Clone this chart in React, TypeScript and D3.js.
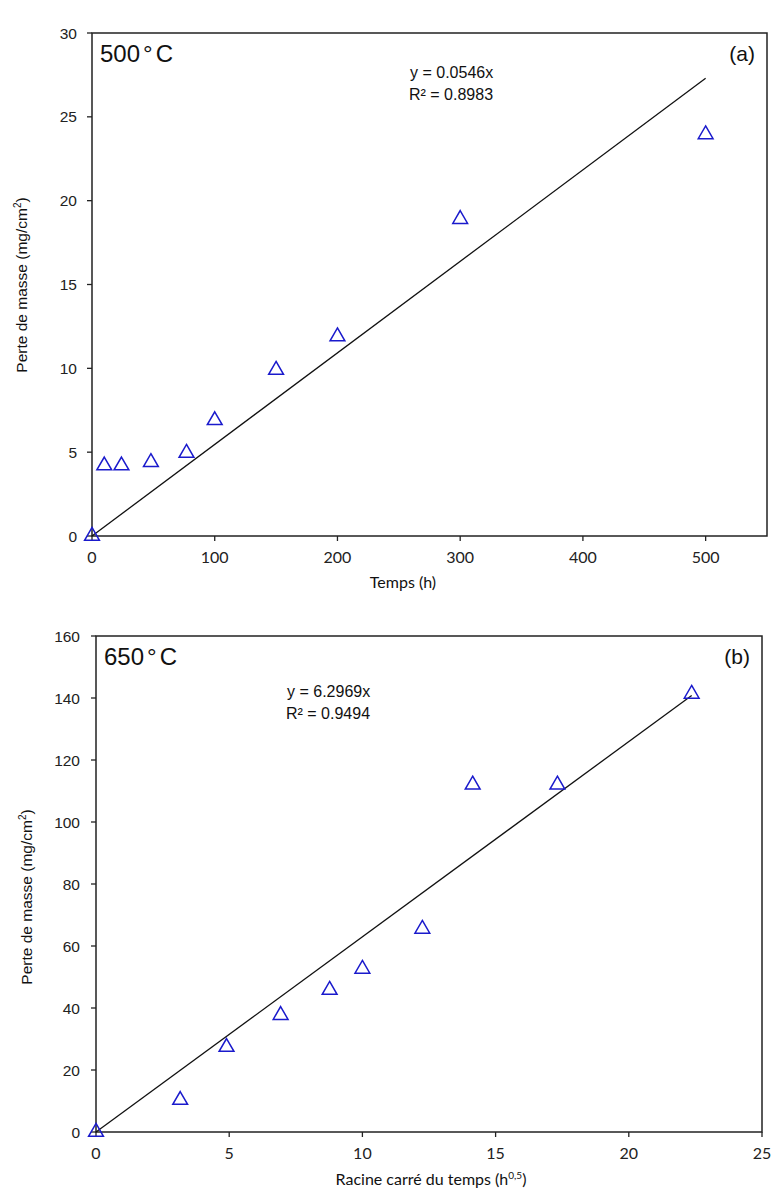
import React from "react";
import * as d3 from "d3";

const timesA = [0, 10, 24, 48, 77, 100, 150, 200, 300, 500];
const lossA = [0, 4.2, 4.2, 4.4, 4.95, 6.9, 9.9, 11.9, 18.9, 23.95];
const slopeA = 0.0546;
const xTicksA = [0, 100, 200, 300, 400, 500];
const yTicksA = [0, 5, 10, 15, 20, 25, 30];

const sqrtTimesB = [0, 3.16, 4.9, 6.93, 8.77, 10, 12.25, 14.14, 17.32, 22.36];
const lossB = [0, 10.3, 27.4, 37.7, 45.8, 52.6, 65.5, 112, 112, 141.3];
const slopeB = 6.2969;
const xTicksB = [0, 5, 10, 15, 20, 25];
const yTicksB = [0, 20, 40, 60, 80, 100, 120, 140, 160];

const FONT = "'Liberation Sans', Arial, sans-serif";
const FONT2 = "Lato, 'Open Sans', sans-serif";

type PanelProps = {
  xs: number[];
  ys: number[];
  slope: number;
  xDomain: [number, number];
  yDomain: [number, number];
  xTicks: number[];
  yTicks: number[];
  left: number;
  right: number;
  top: number;
  bottom: number;
  title: string;
  tag: string;
  eq1: string;
  eq2: string;
  eqX: number;
  eqY: number;
  xLabel: React.ReactNode;
  xLabelX: number;
  xLabelY: number;
  yLabelX: number;
  yLabelY: number;
  yTickGap: number;
};

function Panel(p: PanelProps) {
  const x = d3.scaleLinear().domain(p.xDomain).range([p.left, p.right]);
  const y = d3.scaleLinear().domain(p.yDomain).range([p.bottom, p.top]);
  const xMax = d3.max(p.xs) as number;
  const tri = d3.symbol().type(d3.symbolTriangle).size(95)();
  return (
    <g>
      <rect x={p.left} y={p.top} width={p.right - p.left} height={p.bottom - p.top} fill="none" stroke="#222" strokeWidth={1.5} />
      {p.yTicks.map((t) => (
        <g key={"y" + t}>
          <line x1={p.left - 5} x2={p.left} y1={y(t)} y2={y(t)} stroke="#222" strokeWidth={1.3} />
          <text x={p.left - p.yTickGap} y={y(t)} dy="0.36em" textAnchor="end" fontSize={15.5} fontFamily={FONT} fill="#222">{t}</text>
        </g>
      ))}
      {p.xTicks.map((t) => (
        <g key={"x" + t}>
          <line x1={x(t)} x2={x(t)} y1={p.bottom} y2={p.bottom + 5} stroke="#222" strokeWidth={1.3} />
          <text x={x(t)} y={p.bottom + 27} textAnchor="middle" fontSize={16} fontFamily={FONT2} fill="#222">{t}</text>
        </g>
      ))}
      <line x1={x(0)} y1={y(0)} x2={x(xMax)} y2={y(p.slope * xMax)} stroke="#111" strokeWidth={1.3} />
      {p.xs.map((v, i) => (
        <path key={i} d={tri} transform={`translate(${x(v)},${y(p.ys[i])})`} fill="none" stroke="#1a1acc" strokeWidth={1.5} />
      ))}
      <text x={p.left + 8} y={p.top + 29} fontSize={24} fontFamily={FONT} fill="#111">
        {p.title}<tspan dx={3}>°</tspan><tspan dx={3}>C</tspan>
      </text>
      <text x={p.right - 12} y={p.top + 28} textAnchor="end" fontSize={21} fontFamily={FONT} fill="#111">{p.tag}</text>
      <text x={p.eqX} y={p.eqY} fontSize={16} fontFamily={FONT} fill="#111">{p.eq1}</text>
      <text x={p.eqX - 1} y={p.eqY + 22} fontSize={16} fontFamily={FONT} fill="#111">{p.eq2}</text>
      <text transform={`translate(${p.yLabelX},${p.yLabelY}) rotate(-90)`} textAnchor="middle" fontSize={15.5} fontFamily={FONT} fill="#111">
        Perte de masse (mg/cm<tspan dy={-6} fontSize={10}>2</tspan><tspan dy={6}>)</tspan>
      </text>
      <text x={p.xLabelX} y={p.xLabelY} textAnchor="middle" fontSize={16} fontFamily={FONT2} fill="#111">{p.xLabel}</text>
    </g>
  );
}

export default function App() {
  return (
    <svg width={774} height={1189} style={{ position: "absolute", left: 0, top: 0, background: "#fff" }}>
      <Panel
        xs={timesA}
        ys={lossA}
        slope={slopeA}
        xDomain={[0, 550]}
        yDomain={[0, 30]}
        xTicks={xTicksA}
        yTicks={yTicksA}
        left={92}
        right={767}
        top={33}
        bottom={536}
        title="500"
        tag="(a)"
        eq1="y = 0.0546x"
        eq2="R² = 0.8983"
        eqX={410}
        eqY={78}
        xLabel="Temps (h)"
        xLabelX={403}
        xLabelY={588}
        yLabelX={27}
        yLabelY={285}
        yTickGap={15}
      />
      <Panel
        xs={sqrtTimesB}
        ys={lossB}
        slope={slopeB}
        xDomain={[0, 25]}
        yDomain={[0, 160]}
        xTicks={xTicksB}
        yTicks={yTicksB}
        left={96}
        right={762}
        top={636}
        bottom={1132}
        title="650"
        tag="(b)"
        eq1="y = 6.2969x"
        eq2="R² = 0.9494"
        eqX={287}
        eqY={697}
        xLabel={<>Racine carré du temps (h<tspan dy={-6} fontSize={10}>0,5</tspan><tspan dy={6}>)</tspan></>}
        xLabelX={431}
        xLabelY={1185}
        yLabelX={32}
        yLabelY={897}
        yTickGap={16}
      />
    </svg>
  );
}
